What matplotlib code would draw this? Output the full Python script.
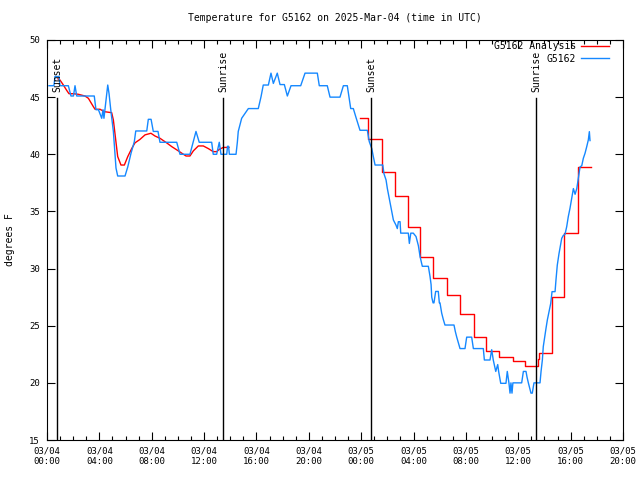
import numpy as np
import matplotlib
matplotlib.use("Agg")
import matplotlib.pyplot as plt
from matplotlib.ticker import MultipleLocator

# hours since 03/04 00:00 UTC
obs_hours = [0.15, 0.53, 0.61, 0.92, 0.99, 1.63, 1.83, 2.02, 2.14, 2.27, 3.61, 3.74, 3.93, 4.18, 4.28,
             4.35, 4.64, 4.74, 4.87, 5.07, 5.19, 5.27, 5.40, 5.96, 6.17, 6.42, 6.67, 6.78, 7.62, 7.74,
             7.95, 8.12, 8.48, 8.63, 9.91, 10.16, 10.92, 11.38, 11.63, 12.58, 12.70, 12.96, 13.16, 13.29,
             13.73, 13.79, 13.87, 13.93, 14.44, 14.54, 14.61, 14.87, 15.38, 16.14, 16.35, 16.52, 16.91,
             17.11, 17.29, 17.59, 17.80, 18.13, 18.36, 18.64, 19.38, 19.71, 20.65, 20.80, 21.41, 21.62,
             22.38, 22.64, 22.94, 23.20, 23.40, 23.61, 23.91, 24.47, 24.62, 24.81, 24.91, 25.06, 25.65,
             25.74, 25.90, 26.00, 26.10, 26.20, 26.33, 26.46, 26.66, 26.76, 26.84, 26.97, 27.02, 27.60,
             27.68, 27.79, 27.98, 28.19, 28.37, 28.50, 28.67, 29.13, 29.26, 29.34, 29.39, 29.49, 29.56,
             29.69, 29.89, 29.97, 30.02, 30.15, 30.27, 30.40, 31.09, 31.19, 31.30, 31.55, 31.93, 32.06,
             32.44, 32.57, 33.33, 33.41, 33.84, 33.97, 34.09, 34.28, 34.43, 34.50, 34.66, 35.06, 35.16,
             35.29, 35.37, 35.44, 35.52, 35.59, 36.26, 36.39, 36.59, 36.67, 36.77, 36.97, 37.07, 37.20,
             37.66, 37.74, 37.84, 37.91, 38.04, 38.12, 38.22, 38.35, 38.48, 38.58, 38.81, 38.88, 38.98,
             39.11, 39.19, 39.32, 39.44, 39.57, 39.70, 39.82, 39.95, 40.08, 40.21, 40.34, 40.47, 40.59,
             40.72, 40.85, 40.97, 41.10, 41.23, 41.35, 41.43, 41.48]
obs_temps = [46.0, 46.0, 46.8, 46.8, 46.0, 46.0, 45.1, 45.1, 46.0, 45.1, 45.1, 43.9, 43.9, 43.15, 43.9,
             43.15, 46.06, 45.3, 43.9, 42.0, 40.1, 38.8, 38.1, 38.1, 38.9, 40.1, 41.1, 42.04, 42.04, 43.06,
             43.06, 42.0, 42.0, 41.05, 41.05, 40.0, 40.0, 42.0, 41.05, 41.05, 40.0, 40.0, 41.05, 40.0,
             40.0, 40.7, 40.7, 40.0, 40.0, 41.05, 42.0, 43.15, 44.0, 44.0, 45.04, 46.06, 46.06,
             47.1, 46.2, 47.1, 46.1, 46.1, 45.1, 46.0, 46.0, 47.1, 47.1, 46.0, 46.0, 45.0,
             45.0, 46.0, 46.0, 44.0, 44.0, 43.2, 42.1, 42.1, 41.1, 40.5, 39.9, 39.06, 39.06,
             38.3, 37.75, 37.0, 36.4, 35.85, 34.98, 34.25, 33.8, 33.5, 34.1, 34.1, 33.1, 33.1,
             32.2, 33.1, 33.1, 32.8, 32.0, 31.04, 30.2, 30.2, 29.3, 28.6, 27.5, 27.0, 27.0,
             28.0, 28.0, 27.0, 27.0, 26.1, 25.56, 25.06, 25.06, 24.5, 24.0, 23.0, 23.0, 24.0,
             24.0, 23.0, 23.0, 22.0, 22.0, 22.9, 22.0, 21.0, 21.6, 21.0, 19.96, 19.96, 21.0,
             19.96, 19.1, 20.0, 19.1, 20.0, 20.0, 21.0, 21.0, 20.5, 20.0, 19.1, 19.1, 20.0,
             20.0, 21.0, 22.0, 23.17, 24.2, 24.78, 25.5, 26.23, 26.96, 27.98, 27.98, 29.0, 30.3,
             31.3, 31.8, 32.65, 32.9, 33.0, 33.67, 34.54, 35.27, 36.15, 37.0, 36.5, 37.0, 37.9,
             38.9, 39.0, 39.65, 40.09, 40.67, 41.25, 41.98, 41.2]

# analysis, first day (fine resolution)
ana1_hours = [0.84, 0.99, 1.25, 1.50, 1.68, 2.0, 2.39, 2.90, 3.16, 3.54, 3.67, 4.05, 4.38, 4.94, 5.07,
              5.25, 5.40, 5.65, 5.91, 6.17, 6.47, 6.72, 7.10, 7.49, 7.94, 8.25, 8.63, 9.14, 9.53,
              10.03, 10.29, 10.62, 10.92, 11.18, 11.56, 11.94, 12.32, 12.70, 12.96, 13.16, 13.47, 13.90]
ana1_temps = [46.6, 46.5, 46.06, 45.6, 45.3, 45.3, 45.25, 45.1, 44.9, 44.17, 43.94, 43.94, 43.73, 43.64,
              43.0, 41.25, 39.8, 39.06, 39.06, 39.8, 40.5, 41.0, 41.3, 41.7, 41.84, 41.6, 41.4, 41.0,
              40.67, 40.3, 40.1, 39.85, 39.85, 40.3, 40.73, 40.73, 40.5, 40.23, 40.23, 40.43, 40.6, 40.6]

# analysis, hourly steps
ana2_hours = [23.91, 24.52, 25.59, 26.59, 27.58, 28.50, 29.49, 30.56, 31.55, 32.58, 33.54, 34.53,
              35.56, 36.55, 37.47, 37.59, 38.54, 39.53, 40.57, 41.52]
ana2_temps = [43.15, 41.3, 38.48, 36.35, 33.6, 31.04, 29.15, 27.7, 26.0, 23.98, 22.8, 22.24,
              21.92, 21.45, 22.1, 22.65, 27.5, 33.15, 38.9, 38.85]

sun_hours = [0.76, 13.45, 24.75, 37.36]
sun_labels = ["Sunset", "Sunrise", "Sunset", "Sunrise"]

tick_labels = ["03/04\n00:00", "03/04\n04:00", "03/04\n08:00", "03/04\n12:00", "03/04\n16:00",
               "03/04\n20:00", "03/05\n00:00", "03/05\n04:00", "03/05\n08:00", "03/05\n12:00",
               "03/05\n16:00", "03/05\n20:00"]

plt.rcParams['font.family'] = 'DejaVu Sans Mono'
fs = 6.5

fig = plt.figure(figsize=(6.4, 4.8), dpi=100)
ax = fig.add_axes([47/640, 40/480, 576/640, 400/480])

red = '#ff0000'
blue = '#1588ff'
ax.plot(ana1_hours, ana1_temps, color=red, lw=1.0, label='G5162 Analysis')
ax.plot(ana2_hours, ana2_temps, color=red, lw=1.0, drawstyle='steps-post')
ax.plot(obs_hours, obs_temps, color=blue, lw=1.0, label='G5162')

for h, lab in zip(sun_hours, sun_labels):
    ax.plot([h, h], [15, 44.95], color='black', lw=1.0)
    ax.text(h, 45.45, lab, rotation=90, ha='center', va='bottom', fontsize=fs + 0.5)

ax.set_xlim(0, 44)
ax.set_ylim(15, 50)
ax.set_xticks(np.arange(0, 45, 4))
ax.set_xticklabels(tick_labels)
ax.xaxis.set_minor_locator(MultipleLocator(1))
ax.set_yticks(np.arange(15, 51, 5))
ax.tick_params(which='both', direction='in', top=True, right=True, labelsize=fs, width=0.8)
ax.tick_params(which='major', length=6, pad=5)
ax.tick_params(which='minor', length=3)
for s in ax.spines.values():
    s.set_linewidth(0.8)

ax.set_ylabel('degrees F', fontsize=fs + 0.5, labelpad=10)
ax.set_title('Temperature for G5162 on 2025-Mar-04 (time in UTC)', fontsize=fs + 0.5, pad=14)

leg = ax.legend(loc='upper right', bbox_to_anchor=(1 - 13/576, 1.0), frameon=False,
                markerfirst=False, fontsize=fs + 0.5, handlelength=2.9, borderaxespad=0.0,
                borderpad=0.1, labelspacing=0.3, handletextpad=0.5)
for t in leg.get_texts():
    t.set_ha('right')

fig.savefig('out.png', dpi=100)
